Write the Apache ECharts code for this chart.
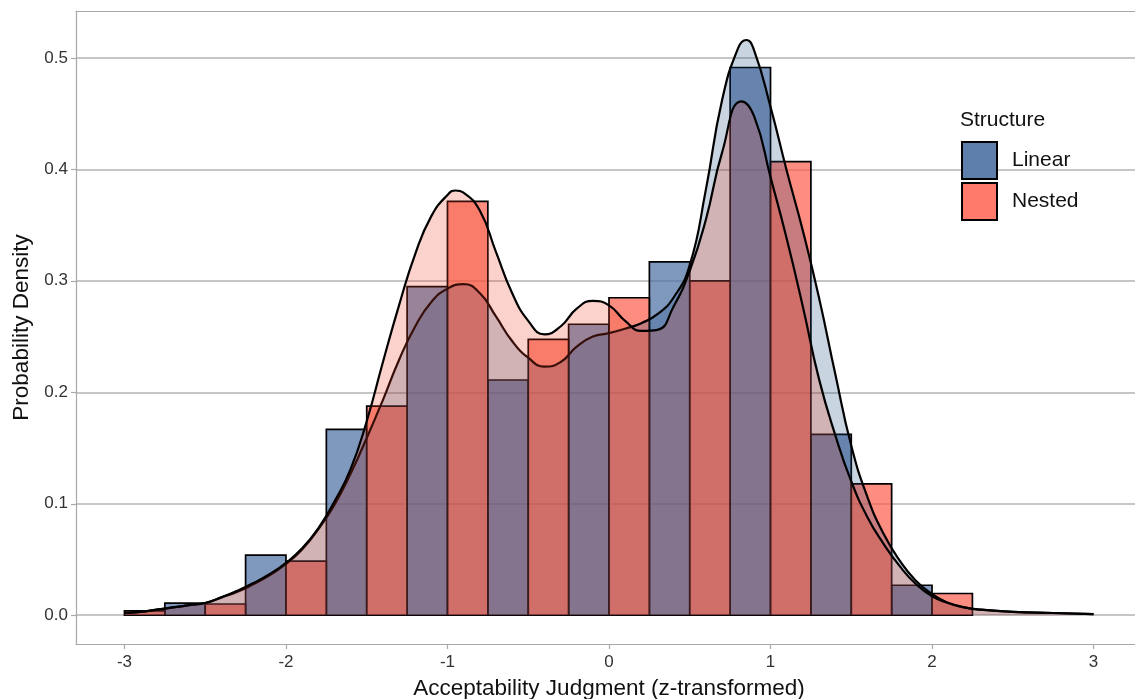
<!DOCTYPE html>
<html>
<head>
<meta charset="utf-8">
<script src="https://cdn.jsdelivr.net/npm/echarts@6/dist/echarts.min.js"></script>
<style>
html,body{margin:0;padding:0;background:#fff;}
#chart{width:1135px;height:699px;}
</style>
</head>
<body>
<div id="chart"></div>
<script>
// ---- data ----
const binLeft = [-3.25, -2.75, -2.25, -1.75, -1.25, -0.75, -0.25, 0.25, 0.75, 1.25, 1.75]; // 0.5-wide bins, dodged
const linearHist = [0, 0.0108, 0.0539, 0.1667, 0.2947, 0.211, 0.261, 0.3169, 0.4913, 0.1622, 0.0269];
const nestedHist = [0.004, 0.0101, 0.0485, 0.1876, 0.3713, 0.2475, 0.2848, 0.300, 0.4069, 0.1179, 0.0195];

const linearDensity = [
  [-3.0,0.002],[-2.9,0.003],[-2.8,0.005],[-2.7,0.007],[-2.6,0.009],[-2.5,0.011],[-2.4,0.016],
  [-2.3,0.021],[-2.2,0.028],[-2.1,0.036],[-2.0,0.046],[-1.9,0.059],[-1.8,0.077],[-1.7,0.099],
  [-1.6,0.127],[-1.5,0.159],[-1.4,0.193],[-1.3,0.229],[-1.2,0.259],[-1.1,0.281],[-1.0,0.293],
  [-0.9,0.297],[-0.8,0.289],[-0.7,0.268],[-0.6,0.246],[-0.5,0.231],[-0.4,0.223],[-0.3,0.227],
  [-0.2,0.241],[-0.1,0.250],[0.0,0.253],[0.1,0.257],[0.2,0.262],[0.3,0.270],[0.4,0.285],
  [0.5,0.314],[0.6,0.382],[0.7,0.462],[0.8,0.509],[0.85,0.516],[0.9,0.506],[1.0,0.456],
  [1.1,0.399],[1.2,0.345],[1.3,0.285],[1.4,0.217],[1.5,0.152],[1.6,0.106],[1.7,0.073],
  [1.8,0.049],[1.9,0.031],[2.0,0.019],[2.1,0.011],[2.2,0.007],[2.3,0.005],[2.5,0.003],
  [2.75,0.002],[3.0,0.001]
];
const nestedDensity = [
  [-3.0,0.002],[-2.9,0.003],[-2.8,0.005],[-2.7,0.007],[-2.6,0.009],[-2.5,0.011],[-2.4,0.016],
  [-2.3,0.022],[-2.2,0.029],[-2.1,0.037],[-2.0,0.047],[-1.9,0.060],[-1.8,0.078],[-1.7,0.102],
  [-1.6,0.131],[-1.5,0.174],[-1.4,0.227],[-1.3,0.278],[-1.2,0.324],[-1.1,0.358],[-1.0,0.377],
  [-0.95,0.381],[-0.9,0.379],[-0.8,0.363],[-0.7,0.326],[-0.6,0.289],[-0.5,0.264],[-0.4,0.252],
  [-0.3,0.259],[-0.2,0.275],[-0.1,0.282],[0.0,0.278],[0.1,0.264],[0.2,0.255],[0.3,0.256],
  [0.4,0.277],[0.5,0.309],[0.6,0.355],[0.7,0.415],[0.82,0.461],[0.9,0.447],[1.0,0.393],
  [1.1,0.338],[1.2,0.277],[1.3,0.212],[1.4,0.162],[1.5,0.120],[1.6,0.088],[1.7,0.064],
  [1.8,0.044],[1.9,0.028],[2.0,0.017],[2.1,0.011],[2.2,0.007],[2.3,0.005],[2.5,0.003],
  [2.75,0.002],[3.0,0.001]
];

const xTicks = [-3, -2, -1, 0, 1, 2, 3];
const yTicks = [0, 0.1, 0.2, 0.3, 0.4, 0.5];

// ---- build ----
const halfWidth = 0.25;
function histData(values, offset) {
  const out = [];
  values.forEach((v, i) => {
    if (v > 0) out.push([binLeft[i] + offset, binLeft[i] + offset + halfWidth, v]);
  });
  return out;
}
function makeRender(fill) {
  return function (params, api) {
    const p0 = api.coord([api.value(0), api.value(2)]);
    const p1 = api.coord([api.value(1), 0]);
    return {
      type: 'rect',
      shape: { x: p0[0], y: p0[1], width: p1[0] - p0[0], height: p1[1] - p0[1] },
      style: { fill: fill, stroke: '#000', lineWidth: 1.7 }
    };
  };
}

const FONT = '"Liberation Sans", Arial, Helvetica, sans-serif';
const AXIS_GRAY = '#a8a8a8';
const chart = echarts.init(document.getElementById('chart'), null, { renderer: 'canvas' });
chart.setOption({
  animation: false,
  backgroundColor: '#ffffff',
  title: {
    text: 'Structure', left: 960, top: 110, padding: 0,
    textStyle: { fontFamily: FONT, fontSize: 21, fontWeight: 'normal', color: '#111' }
  },
  legend: {
    orient: 'vertical', left: 961, top: 141, padding: 0,
    itemWidth: 35, itemHeight: 37, itemGap: 2, selectedMode: false,
    icon: 'rect',
    textStyle: { fontFamily: FONT, fontSize: 21, color: '#111', padding: [0, 0, 0, 10] },
    data: [
      { name: 'Linear', itemStyle: { color: '#5f7fab', borderColor: '#000', borderWidth: 2 } },
      { name: 'Nested', itemStyle: { color: '#ff7a6b', borderColor: '#000', borderWidth: 2 } }
    ]
  },
  grid: {
    left: 76, right: -7, top: 11, bottom: 55,
    outerBoundsMode: 'none', containLabel: false, show: false
  },
  xAxis: [
    {
      type: 'value', min: -3.3, max: 3.3, position: 'bottom',
      axisLine: { show: true, onZero: false, lineStyle: { color: AXIS_GRAY, width: 1.2 } },
      axisTick: { show: true, customValues: xTicks, length: 5, lineStyle: { color: AXIS_GRAY, width: 1.2 } },
      axisLabel: { customValues: xTicks, fontFamily: FONT, fontSize: 17, color: '#333', margin: 10 },
      splitLine: { show: false },
      name: 'Acceptability Judgment (z-transformed)', nameLocation: 'middle', nameGap: 33,
      nameTextStyle: { fontFamily: FONT, fontSize: 22.5, color: '#111' }
    },
    {
      type: 'value', min: -3.3, max: 3.3, position: 'top',
      axisLine: { show: true, onZero: false, lineStyle: { color: AXIS_GRAY, width: 1.2 } },
      axisTick: { show: false }, axisLabel: { show: false }, splitLine: { show: false }
    }
  ],
  yAxis: {
    type: 'value', min: -0.0258, max: 0.542,
    axisLine: { show: true, onZero: false, lineStyle: { color: AXIS_GRAY, width: 1.2 } },
    axisTick: { show: true, customValues: yTicks, length: 5, lineStyle: { color: AXIS_GRAY, width: 1.2 } },
    axisLabel: { customValues: yTicks, formatter: v => v.toFixed(1), fontFamily: FONT, fontSize: 17, color: '#333', margin: 8 },
    splitLine: { show: true, lineStyle: { color: '#b3b3b3', width: 1.5 } },
    name: 'Probability Density', nameLocation: 'middle', nameGap: 41,
    nameTextStyle: { fontFamily: FONT, fontSize: 22.5, color: '#111' }
  },
  series: [
    {
      name: 'Linear', type: 'custom', z: 2,
      itemStyle: { color: '#5f7fab' },
      renderItem: makeRender('rgba(72,108,161,0.7)'),
      encode: { x: [0, 1], y: 2 },
      data: histData(linearHist, 0)
    },
    {
      name: 'Nested', type: 'custom', z: 2,
      itemStyle: { color: '#ff7a6b' },
      renderItem: makeRender('rgba(252,92,74,0.7)'),
      encode: { x: [0, 1], y: 2 },
      data: histData(nestedHist, halfWidth)
    },
    {
      name: 'Linear density', type: 'line', z: 3,
      smooth: 0.5, symbol: 'none',
      lineStyle: { color: '#000', width: 2.2 },
      areaStyle: { color: 'rgba(22,70,126,0.23)', opacity: 1 },
      data: linearDensity
    },
    {
      name: 'Nested density', type: 'line', z: 4,
      smooth: 0.5, symbol: 'none',
      lineStyle: { color: '#000', width: 2.2 },
      areaStyle: { color: 'rgba(239,65,35,0.23)', opacity: 1 },
      data: nestedDensity
    }
  ]
});
</script>
</body>
</html>
